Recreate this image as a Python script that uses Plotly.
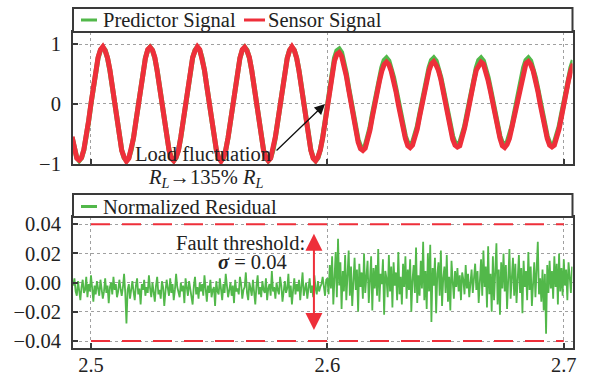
import numpy as np
import plotly.graph_objects as go

W, H = 592, 378

# ---------------- data ----------------
signal_t_start = 2.492
signal_t_step = 0.001

sensor_signal = [
    -0.55, -0.78, -0.91, -0.94, -0.90, -0.76, -0.57, -0.28,
    0.01, 0.30, 0.55, 0.78, 0.91, 0.96, 0.89, 0.77, 0.57, 0.28, -0.01, -0.30, -0.55, -0.78, -0.89, -0.96, -0.91, -0.76, -0.57, -0.29,
    0.00, 0.29, 0.57, 0.76, 0.91, 0.95, 0.90, 0.78, 0.55, 0.30, 0.01, -0.28, -0.57, -0.77, -0.91, -0.95, -0.89, -0.78, -0.55, -0.30,
    0.01, 0.28, 0.56, 0.78, 0.89, 0.96, 0.91, 0.76, 0.57, 0.29, -0.01, -0.29, -0.56, -0.76, -0.90, -0.96, -0.90, -0.77, -0.56, -0.28,
    0.00, 0.30, 0.55, 0.77, 0.91, 0.95, 0.89, 0.78, 0.56, 0.28, 0.00, -0.30, -0.57, -0.78, -0.90, -0.95, -0.91, -0.76, -0.55, -0.29,
    0.01, 0.29, 0.57, 0.76, 0.90, 0.96, 0.90, 0.77, 0.55, 0.30, -0.01, -0.28, -0.56, -0.78, -0.91, -0.95, -0.89, -0.77, -0.57, -0.29,
    0.02, 0.27, 0.52, 0.72, 0.83, 0.86, 0.80, 0.66, 0.47, 0.24, 0.00, -0.24, -0.47, -0.64, -0.75, -0.78, -0.74, -0.62, -0.44, -0.22,
    0.01, 0.20, 0.38, 0.55, 0.66, 0.70, 0.66, 0.55, 0.40, 0.21, -0.01, -0.23, -0.42, -0.58, -0.70, -0.73, -0.69, -0.58, -0.42, -0.21,
    0.00, 0.21, 0.40, 0.56, 0.67, 0.71, 0.65, 0.56, 0.41, 0.20, 0.00, -0.22, -0.43, -0.59, -0.69, -0.72, -0.70, -0.57, -0.41, -0.22,
    0.01, 0.22, 0.39, 0.57, 0.66, 0.70, 0.67, 0.55, 0.39, 0.21, -0.01, -0.23, -0.42, -0.57, -0.70, -0.73, -0.68, -0.58, -0.40, -0.21,
    0.00, 0.21, 0.40, 0.56, 0.68, 0.71, 0.66, 0.56, 0.41, 0.22, 0.00, -0.22, -0.41, -0.58, -0.69, -0.72, -0.69, -0.57, -0.42, -0.22,
    0.01, 0.21, 0.40, 0.56, 0.67,
]

predictor_signal = [
    -0.56, -0.77, -0.90, -0.95, -0.90, -0.77, -0.56, -0.29,
    0.00, 0.29, 0.56, 0.77, 0.90, 0.95, 0.90, 0.77, 0.56, 0.29, 0.00, -0.29, -0.56, -0.77, -0.90, -0.95, -0.90, -0.77, -0.56, -0.29,
    0.00, 0.29, 0.56, 0.77, 0.90, 0.95, 0.90, 0.77, 0.56, 0.29, 0.00, -0.29, -0.56, -0.77, -0.90, -0.95, -0.90, -0.77, -0.56, -0.29,
    0.00, 0.29, 0.56, 0.77, 0.90, 0.95, 0.90, 0.77, 0.56, 0.29, 0.00, -0.29, -0.56, -0.77, -0.90, -0.95, -0.90, -0.77, -0.56, -0.29,
    0.00, 0.29, 0.56, 0.77, 0.90, 0.95, 0.90, 0.77, 0.56, 0.29, 0.00, -0.29, -0.56, -0.77, -0.90, -0.95, -0.90, -0.77, -0.56, -0.29,
    0.00, 0.29, 0.56, 0.77, 0.90, 0.95, 0.90, 0.77, 0.56, 0.29, 0.00, -0.29, -0.56, -0.77, -0.90, -0.95, -0.90, -0.77, -0.56, -0.29,
    0.04, 0.30, 0.56, 0.77, 0.89, 0.92, 0.86, 0.71, 0.51, 0.27, 0.03, -0.20, -0.43, -0.60, -0.71, -0.74, -0.70, -0.58, -0.40, -0.18,
    0.04, 0.25, 0.44, 0.61, 0.73, 0.77, 0.72, 0.60, 0.44, 0.25, 0.03, -0.19, -0.38, -0.54, -0.65, -0.68, -0.65, -0.54, -0.38, -0.18,
    0.04, 0.25, 0.44, 0.61, 0.73, 0.77, 0.72, 0.60, 0.44, 0.25, 0.03, -0.19, -0.38, -0.54, -0.65, -0.68, -0.65, -0.54, -0.38, -0.18,
    0.04, 0.25, 0.44, 0.61, 0.73, 0.77, 0.72, 0.60, 0.44, 0.25, 0.03, -0.19, -0.38, -0.54, -0.65, -0.68, -0.65, -0.54, -0.38, -0.18,
    0.04, 0.25, 0.44, 0.61, 0.73, 0.77, 0.72, 0.60, 0.44, 0.25, 0.03, -0.19, -0.38, -0.54, -0.65, -0.68, -0.65, -0.54, -0.38, -0.18,
    0.04, 0.25, 0.44, 0.61, 0.73,
]

residual_t_start = 2.4925
residual_t_step = 0.0005

residual_before = [
    -0.002, 0.003, -0.006, -0.009, 0.001, -0.004, -0.012, -0.003, 0.002, -0.007,
    -0.005, 0.004, -0.010, -0.001, -0.006, 0.005, -0.003, -0.013, -0.002, -0.008,
    0.001, -0.005, -0.009, 0.002, -0.004, -0.011, -0.006, 0.003, -0.007, -0.002,
    -0.014, -0.003, 0.000, -0.008, 0.004, -0.005, -0.001, -0.010, -0.006, 0.002,
    -0.004, -0.009, -0.003, 0.006, -0.007, -0.028, -0.005, -0.001, -0.011, -0.003,
    0.001, -0.006, -0.012, -0.002, 0.003, -0.008, -0.004, -0.015, -0.001, -0.005,
    0.002, -0.009, -0.003, -0.007, 0.005, -0.004, -0.010, 0.000, -0.006, -0.013,
    -0.002, 0.004, -0.008, -0.005, -0.011, 0.001, -0.003, -0.016, -0.006, 0.002,
    -0.004, -0.009, 0.003, -0.007, -0.001, -0.012, -0.005, 0.006, -0.003, -0.008,
    -0.010, 0.000, -0.006, -0.002, -0.014, 0.003, -0.005, -0.009, 0.001, -0.004,
    -0.007, -0.015, -0.002, 0.004, -0.008, -0.003, -0.011, 0.000, -0.006, -0.001,
    -0.009, 0.005, -0.004, -0.013, -0.002, -0.007, 0.002, -0.010, -0.005, -0.003,
    -0.016, 0.001, -0.006, -0.008, 0.003, -0.004, -0.012, -0.001, -0.007, 0.006,
    -0.003, -0.010, -0.005, 0.000, -0.009, -0.002, -0.014, 0.002, -0.006, -0.004,
    -0.008, 0.004, -0.001, -0.011, -0.005, -0.003, 0.007, -0.007, -0.012, 0.000,
    -0.004, -0.009, 0.002, -0.006, -0.015, -0.002, 0.005, -0.008, -0.003, -0.010,
    0.001, -0.005, -0.007, 0.003, -0.012, -0.004, -0.001, -0.009, 0.008, -0.006,
    -0.003, -0.011, 0.000, -0.005, -0.008, 0.004, -0.002, -0.013, -0.006, 0.001,
    -0.007, -0.004, 0.006, -0.010, -0.002, -0.015, -0.005, 0.003, -0.008, -0.001,
    -0.006, 0.002, -0.012, -0.003, 0.007, -0.009, -0.004, 0.000, -0.011, -0.005,
    0.003, -0.007, -0.002, -0.010, 0.005, -0.004, -0.008, 0.001, -0.006, -0.003,
    -0.001, 0.004, -0.005, -0.009, 0.002,
]

residual_after = [
    0.003, -0.008, 0.012, -0.004, 0.018, -0.015, 0.006, 0.021, -0.010, 0.030,
    -0.002, 0.014, -0.018, 0.008, -0.006, 0.019, -0.012, 0.004, 0.022, -0.009,
    0.011, -0.016, 0.002, 0.017, -0.005, 0.009, -0.020, 0.013, -0.003, 0.007,
    -0.011, 0.020, -0.007, 0.005, 0.015, -0.014, 0.001, 0.018, -0.019, 0.010,
    -0.004, 0.012, -0.009, 0.023, -0.013, 0.006, -0.001, 0.016, -0.022, 0.008,
    0.003, -0.010, 0.019, -0.006, 0.011, -0.017, 0.014, -0.002, 0.007, -0.012,
    0.021, -0.008, 0.004, -0.015, 0.013, -0.003, 0.018, -0.011, 0.009, -0.005,
    0.016, -0.020, 0.002, 0.012, -0.007, 0.024, -0.014, 0.005, -0.009, 0.015,
    -0.004, 0.028, -0.012, 0.008, -0.018, 0.020, -0.006, 0.026, -0.027, 0.010,
    -0.002, 0.017, -0.021, 0.006, 0.014, -0.009, 0.022, -0.016, 0.003, 0.011,
    -0.007, 0.019, -0.013, 0.004, -0.019, 0.015, 0.001, -0.011, 0.008, -0.003,
    0.010, -0.006, 0.005, -0.012, 0.007, 0.002, -0.008, 0.012, -0.004, 0.006,
    -0.010, 0.003, 0.009, -0.007, 0.001, 0.013, -0.005, 0.008, -0.014, 0.004,
    0.016, -0.009, 0.022, -0.003, 0.011, -0.017, 0.025, -0.008, 0.006, -0.020,
    0.018, -0.012, 0.003, 0.027, -0.015, 0.009, -0.022, 0.014, -0.004, 0.020,
    -0.006, 0.012, -0.018, 0.007, 0.023, -0.011, 0.002, 0.017, -0.009, 0.013,
    -0.014, 0.005, 0.019, -0.007, 0.010, -0.021, 0.015, -0.003, 0.008, -0.012,
    0.021, -0.005, 0.011, -0.016, 0.004, 0.014, -0.010, 0.017, 0.028, -0.008,
    0.003, -0.013, 0.009, -0.019, 0.006, -0.035, 0.012, -0.007, 0.015, -0.004,
    0.008, -0.011, 0.018, -0.003, 0.013, -0.015, 0.020, -0.006, 0.010, -0.009,
    0.016, -0.002, 0.009, -0.012, 0.014, 0.004, -0.007, 0.011,
]

threshold_t = [2.5, 2.7]
threshold_upper = [0.04, 0.04]
threshold_lower = [-0.04, -0.04]

x_ticks = [2.5, 2.6, 2.7]
x_tick_text = ["2.5", "2.6", "2.7"]
top_y_ticks = [-1, 0, 1]
bottom_y_ticks = [-0.04, -0.02, 0.0, 0.02, 0.04]

# ---------------- derived sample times ----------------
t_sig = np.round(signal_t_start + signal_t_step * np.arange(len(sensor_signal)), 4)
residual = residual_before + residual_after
t_res = np.round(residual_t_start + residual_t_step * np.arange(len(residual)), 5)

# ---------------- style ----------------
GREEN = "#52b84a"
RED = "#ee2f3a"
FRAME = "#3a3a3a"
GRID = "#a0a0a0"
FONT = "Liberation Serif, Times New Roman, serif"
FS = 20.5

def px(x):
    return x / W

def py(y):
    return 1 - y / H

X0, X1 = 73, 572.5
TOP_BAND = (8, 32)
TOP_PLOT = (32, 164)
BOT_BAND = (194, 217)
BOT_PLOT = (217, 348.3)
XRANGE = [2.49239, 2.70368]

fig = go.Figure()

fig.add_trace(go.Scatter(x=t_sig, y=predictor_signal, mode="lines", name="Predictor Signal",
                         line=dict(color=GREEN, width=5), xaxis="x", yaxis="y", showlegend=False))
fig.add_trace(go.Scatter(x=t_sig, y=sensor_signal, mode="lines", name="Sensor Signal",
                         line=dict(color=RED, width=5), xaxis="x", yaxis="y", showlegend=False))

fig.add_trace(go.Scatter(x=threshold_t, y=threshold_upper, mode="lines", name="Upper threshold",
                         line=dict(color=RED, width=2, dash="19px,12px"), xaxis="x2", yaxis="y2", showlegend=False))
fig.add_trace(go.Scatter(x=threshold_t, y=threshold_lower, mode="lines", name="Lower threshold",
                         line=dict(color=RED, width=2, dash="19px,12px"), xaxis="x2", yaxis="y2", showlegend=False))
fig.add_trace(go.Scatter(x=t_res, y=residual, mode="lines", name="Normalized Residual",
                         line=dict(color=GREEN, width=1.8), xaxis="x2", yaxis="y2", showlegend=False))

axis_common = dict(
    automargin=False,
    showline=True, mirror=True, linecolor=FRAME, linewidth=2,
    showgrid=True, gridcolor=GRID, griddash="dot", gridwidth=1.2,
    zeroline=False, ticks="inside", ticklen=5, tickwidth=1.5, tickcolor=FRAME,
    tickfont=dict(family=FONT, size=FS, color="#222"),
)

fig.update_layout(
    width=W, height=H,
    margin=dict(l=0, r=0, t=0, b=0, autoexpand=False),
    paper_bgcolor="white", plot_bgcolor="white",
    font=dict(family=FONT, size=FS, color="#222"),
    xaxis=dict(domain=[px(X0), px(X1)], range=XRANGE, anchor="y",
               tickvals=x_ticks, showticklabels=False, **axis_common),
    yaxis=dict(domain=[py(TOP_PLOT[1]), py(TOP_PLOT[0])], range=[-1.005, 1.205], anchor="x",
               tickvals=top_y_ticks, ticklabelstandoff=6, **axis_common),
    xaxis2=dict(domain=[px(X0), px(X1)], range=XRANGE, anchor="y2",
                tickvals=x_ticks, ticktext=x_tick_text, ticklabelstandoff=-3, **axis_common),
    yaxis2=dict(domain=[py(BOT_PLOT[1]), py(BOT_PLOT[0])], range=[-0.045, 0.045], anchor="x2",
                tickvals=bottom_y_ticks, tickformat=".2f", ticklabelstandoff=6, **axis_common),
)

shapes = []
annotations = []

# legend bands
for band in (TOP_BAND, BOT_BAND):
    shapes.append(dict(type="rect", xref="paper", yref="paper",
                       x0=px(X0), x1=px(X1), y0=py(band[1]), y1=py(band[0]),
                       line=dict(color=FRAME, width=2), fillcolor="white", layer="above"))

def legend_item(x_line0, x_line1, x_text, y, color, label):
    shapes.append(dict(type="line", xref="paper", yref="paper",
                       x0=px(x_line0), x1=px(x_line1), y0=py(y), y1=py(y),
                       line=dict(color=color, width=3), layer="above"))
    annotations.append(dict(xref="paper", yref="paper", x=px(x_text), y=py(y),
                            text=label, showarrow=False, xanchor="left", yanchor="middle",
                            font=dict(family=FONT, size=FS, color="#222")))

legend_item(81, 97, 101, 20, GREEN, "Predictor Signal")
legend_item(244, 265, 266, 20, RED, "Sensor Signal")
legend_item(81, 97, 101, 206.5, GREEN, "Normalized Residual")

# top annotations
annotations.append(dict(xref="paper", yref="paper", x=px(133), y=py(154),
                        text="Load fluctuation", showarrow=False, xanchor="left", yanchor="middle",
                        font=dict(family=FONT, size=FS, color="#222")))
annotations.append(dict(xref="paper", yref="paper", x=px(206), y=py(179),
                        text="<i>R<sub>L</sub></i><b>\u2192</b>135% <i>R<sub>L</sub></i>",
                        showarrow=False, xanchor="center", yanchor="middle",
                        font=dict(family=FONT, size=FS, color="#222")))
annotations.append(dict(xref="x", yref="y", x=2.5990, y=0.0, ax=-50, ay=48,
                        text="", showarrow=True, arrowhead=2, arrowsize=1.6, arrowwidth=1.3,
                        arrowcolor="#111", standoff=0))

# bottom annotations
annotations.append(dict(xref="paper", yref="paper", x=px(240), y=py(243),
                        text="Fault threshold:", showarrow=False, xanchor="center", yanchor="middle",
                        font=dict(family=FONT, size=FS, color="#222")))
annotations.append(dict(xref="paper", yref="paper", x=px(252), y=py(262),
                        text="<b><i>\u03c3</i></b> = 0.04", showarrow=False, xanchor="center", yanchor="middle",
                        font=dict(family=FONT, size=FS, color="#222")))
annotations.append(dict(xref="x2", yref="y2", x=2.5943, y=0.0335, axref="x2", ayref="y2",
                        ax=2.5943, ay=-0.0335, text="", showarrow=True, arrowside="end+start",
                        arrowhead=2, arrowsize=1.7, arrowwidth=2, arrowcolor=RED, standoff=0, startstandoff=0))

fig.update_layout(shapes=shapes, annotations=annotations)

fig.write_html("out.html")
